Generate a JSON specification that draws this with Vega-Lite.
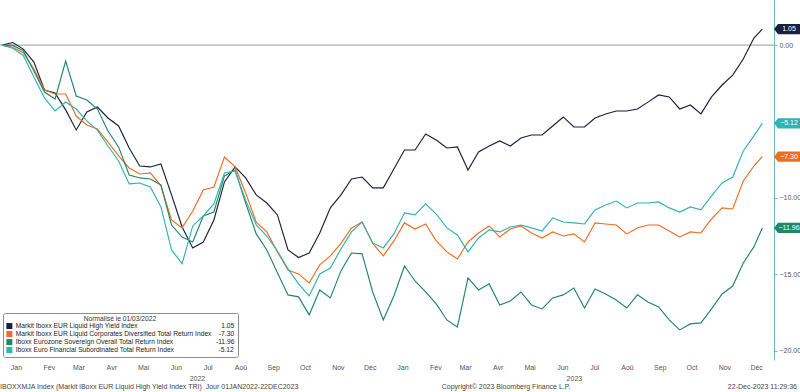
{
"$schema": "https://vega.github.io/schema/vega-lite/v6.json",
"width": 774, "height": 360,
"autosize": {"type": "none"},
"padding": {"left": 0, "top": 0, "right": 26, "bottom": 32},
"background": "white",
"config": {"view": {"stroke": null}, "font": "Liberation Sans",
"axisY": {"orient": "right", "values": [-20, -17.5, -15, -12.5, -10, -7.5, -5, -2.5, 0, 2.5], "labelExpr": "datum.value % 5 == 0 ? format(datum.value, '.2f') : ''", "grid": false, "domainColor": "#6fb8c2", "tickColor": "#6fb8c2", "tickSize": 3, "labelFontSize": 7, "labelColor": "#555555", "labelPadding": 2, "title": null, "labelFlush": false, "labelOverlap": false, "labelBound": false}},
"datasets": {
"names": [
{"s":"HY","n":"Markit Iboxx EUR Liquid High Yield Index"},
{"s":"CO","n":"Markit Iboxx EUR Liquid Corporates Diversified Total Return Index"},
{"s":"SO","n":"Iboxx Eurozone Sovereign Overall Total Return Index"},
{"s":"FI","n":"Iboxx Euro Financial Subordinated Total Return Index"}
],
"series": [
{"s":"HY","t":"2022-01-03","v":0},{"s":"HY","t":"2022-01-13","v":0.17},{"s":"HY","t":"2022-01-23","v":-0.26},{"s":"HY","t":"2022-02-02","v":-1.11},{"s":"HY","t":"2022-02-12","v":-2.94},{"s":"HY","t":"2022-02-22","v":-3.13},{"s":"HY","t":"2022-03-04","v":-4.24},{"s":"HY","t":"2022-03-14","v":-5.55},{"s":"HY","t":"2022-03-24","v":-4.38},{"s":"HY","t":"2022-04-03","v":-4.05},{"s":"HY","t":"2022-04-13","v":-4.77},{"s":"HY","t":"2022-04-23","v":-5.29},{"s":"HY","t":"2022-05-03","v":-6.73},{"s":"HY","t":"2022-05-13","v":-7.91},{"s":"HY","t":"2022-05-23","v":-7.97},{"s":"HY","t":"2022-06-02","v":-7.78},{"s":"HY","t":"2022-06-12","v":-9.80},{"s":"HY","t":"2022-06-22","v":-11.90},{"s":"HY","t":"2022-07-02","v":-13.27},{"s":"HY","t":"2022-07-12","v":-12.88},{"s":"HY","t":"2022-07-22","v":-11.44},{"s":"HY","t":"2022-08-01","v":-8.95},{"s":"HY","t":"2022-08-11","v":-7.97},{"s":"HY","t":"2022-08-21","v":-8.69},{"s":"HY","t":"2022-08-31","v":-9.80},{"s":"HY","t":"2022-09-10","v":-10.33},{"s":"HY","t":"2022-09-20","v":-11.11},{"s":"HY","t":"2022-09-30","v":-13.40},{"s":"HY","t":"2022-10-10","v":-13.90},{"s":"HY","t":"2022-10-20","v":-13.60},{"s":"HY","t":"2022-10-30","v":-12.29},{"s":"HY","t":"2022-11-09","v":-10.65},{"s":"HY","t":"2022-11-19","v":-9.80},{"s":"HY","t":"2022-11-29","v":-8.76},{"s":"HY","t":"2022-12-09","v":-8.63},{"s":"HY","t":"2022-12-19","v":-9.34},{"s":"HY","t":"2022-12-29","v":-9.34},{"s":"HY","t":"2023-01-08","v":-8.10},{"s":"HY","t":"2023-01-18","v":-6.86},{"s":"HY","t":"2023-01-28","v":-6.86},{"s":"HY","t":"2023-02-07","v":-5.81},{"s":"HY","t":"2023-02-17","v":-6.21},{"s":"HY","t":"2023-02-27","v":-6.73},{"s":"HY","t":"2023-03-09","v":-6.66},{"s":"HY","t":"2023-03-19","v":-8.17},{"s":"HY","t":"2023-03-29","v":-6.99},{"s":"HY","t":"2023-04-08","v":-6.60},{"s":"HY","t":"2023-04-18","v":-6.27},{"s":"HY","t":"2023-04-28","v":-6.60},{"s":"HY","t":"2023-05-08","v":-6.08},{"s":"HY","t":"2023-05-18","v":-5.88},{"s":"HY","t":"2023-05-28","v":-5.88},{"s":"HY","t":"2023-06-07","v":-5.29},{"s":"HY","t":"2023-06-17","v":-4.70},{"s":"HY","t":"2023-06-27","v":-5.36},{"s":"HY","t":"2023-07-07","v":-5.36},{"s":"HY","t":"2023-07-17","v":-4.77},{"s":"HY","t":"2023-07-27","v":-4.51},{"s":"HY","t":"2023-08-06","v":-4.31},{"s":"HY","t":"2023-08-16","v":-4.31},{"s":"HY","t":"2023-08-26","v":-4.18},{"s":"HY","t":"2023-09-05","v":-3.73},{"s":"HY","t":"2023-09-15","v":-3.26},{"s":"HY","t":"2023-09-25","v":-3.39},{"s":"HY","t":"2023-10-05","v":-4.18},{"s":"HY","t":"2023-10-15","v":-3.92},{"s":"HY","t":"2023-10-25","v":-4.50},{"s":"HY","t":"2023-11-04","v":-3.39},{"s":"HY","t":"2023-11-14","v":-2.61},{"s":"HY","t":"2023-11-24","v":-1.96},{"s":"HY","t":"2023-12-04","v":-0.91},{"s":"HY","t":"2023-12-14","v":0.46},{"s":"HY","t":"2023-12-22","v":1.05},
{"s":"CO","t":"2022-01-03","v":0},{"s":"CO","t":"2022-01-13","v":-0.14},{"s":"CO","t":"2022-01-23","v":-0.50},{"s":"CO","t":"2022-02-02","v":-1.56},{"s":"CO","t":"2022-02-12","v":-2.94},{"s":"CO","t":"2022-02-22","v":-3.20},{"s":"CO","t":"2022-03-04","v":-3.20},{"s":"CO","t":"2022-03-14","v":-4.64},{"s":"CO","t":"2022-03-24","v":-5.23},{"s":"CO","t":"2022-04-03","v":-5.49},{"s":"CO","t":"2022-04-13","v":-6.34},{"s":"CO","t":"2022-04-23","v":-7.25},{"s":"CO","t":"2022-05-03","v":-8.04},{"s":"CO","t":"2022-05-13","v":-8.43},{"s":"CO","t":"2022-05-23","v":-8.36},{"s":"CO","t":"2022-06-02","v":-9.21},{"s":"CO","t":"2022-06-12","v":-11.44},{"s":"CO","t":"2022-06-22","v":-11.96},{"s":"CO","t":"2022-07-02","v":-10.85},{"s":"CO","t":"2022-07-12","v":-9.48},{"s":"CO","t":"2022-07-22","v":-9.28},{"s":"CO","t":"2022-08-01","v":-7.32},{"s":"CO","t":"2022-08-11","v":-7.97},{"s":"CO","t":"2022-08-21","v":-9.67},{"s":"CO","t":"2022-08-31","v":-11.58},{"s":"CO","t":"2022-09-10","v":-12.22},{"s":"CO","t":"2022-09-20","v":-13.53},{"s":"CO","t":"2022-09-30","v":-14.71},{"s":"CO","t":"2022-10-10","v":-14.97},{"s":"CO","t":"2022-10-20","v":-15.56},{"s":"CO","t":"2022-10-30","v":-14.38},{"s":"CO","t":"2022-11-09","v":-13.79},{"s":"CO","t":"2022-11-19","v":-12.97},{"s":"CO","t":"2022-11-29","v":-11.96},{"s":"CO","t":"2022-12-09","v":-11.58},{"s":"CO","t":"2022-12-19","v":-12.97},{"s":"CO","t":"2022-12-29","v":-13.79},{"s":"CO","t":"2023-01-08","v":-12.81},{"s":"CO","t":"2023-01-18","v":-11.63},{"s":"CO","t":"2023-01-28","v":-12.03},{"s":"CO","t":"2023-02-07","v":-11.70},{"s":"CO","t":"2023-02-17","v":-12.81},{"s":"CO","t":"2023-02-27","v":-13.53},{"s":"CO","t":"2023-03-09","v":-13.99},{"s":"CO","t":"2023-03-19","v":-12.88},{"s":"CO","t":"2023-03-29","v":-12.29},{"s":"CO","t":"2023-04-08","v":-11.83},{"s":"CO","t":"2023-04-18","v":-12.55},{"s":"CO","t":"2023-04-28","v":-12.03},{"s":"CO","t":"2023-05-08","v":-11.83},{"s":"CO","t":"2023-05-18","v":-12.29},{"s":"CO","t":"2023-05-28","v":-12.62},{"s":"CO","t":"2023-06-07","v":-12.22},{"s":"CO","t":"2023-06-17","v":-12.49},{"s":"CO","t":"2023-06-27","v":-12.35},{"s":"CO","t":"2023-07-07","v":-12.88},{"s":"CO","t":"2023-07-17","v":-11.63},{"s":"CO","t":"2023-07-27","v":-11.70},{"s":"CO","t":"2023-08-06","v":-11.77},{"s":"CO","t":"2023-08-16","v":-12.35},{"s":"CO","t":"2023-08-26","v":-11.96},{"s":"CO","t":"2023-09-05","v":-11.77},{"s":"CO","t":"2023-09-15","v":-11.77},{"s":"CO","t":"2023-09-25","v":-12.16},{"s":"CO","t":"2023-10-05","v":-12.55},{"s":"CO","t":"2023-10-15","v":-12.22},{"s":"CO","t":"2023-10-25","v":-12.29},{"s":"CO","t":"2023-11-04","v":-11.37},{"s":"CO","t":"2023-11-14","v":-10.65},{"s":"CO","t":"2023-11-24","v":-10.72},{"s":"CO","t":"2023-12-04","v":-8.89},{"s":"CO","t":"2023-12-14","v":-7.91},{"s":"CO","t":"2023-12-22","v":-7.30},
{"s":"SO","t":"2022-01-03","v":0},{"s":"SO","t":"2022-01-13","v":-0.02},{"s":"SO","t":"2022-01-23","v":-0.37},{"s":"SO","t":"2022-02-02","v":-1.69},{"s":"SO","t":"2022-02-12","v":-3.07},{"s":"SO","t":"2022-02-22","v":-3.53},{"s":"SO","t":"2022-03-04","v":-1.04},{"s":"SO","t":"2022-03-14","v":-3.33},{"s":"SO","t":"2022-03-24","v":-3.59},{"s":"SO","t":"2022-04-03","v":-4.18},{"s":"SO","t":"2022-04-13","v":-5.62},{"s":"SO","t":"2022-04-23","v":-6.66},{"s":"SO","t":"2022-05-03","v":-8.50},{"s":"SO","t":"2022-05-13","v":-8.69},{"s":"SO","t":"2022-05-23","v":-8.76},{"s":"SO","t":"2022-06-02","v":-9.15},{"s":"SO","t":"2022-06-12","v":-11.77},{"s":"SO","t":"2022-06-22","v":-12.56},{"s":"SO","t":"2022-07-02","v":-12.88},{"s":"SO","t":"2022-07-12","v":-11.18},{"s":"SO","t":"2022-07-22","v":-10.92},{"s":"SO","t":"2022-08-01","v":-8.56},{"s":"SO","t":"2022-08-11","v":-8.17},{"s":"SO","t":"2022-08-21","v":-10.33},{"s":"SO","t":"2022-08-31","v":-12.35},{"s":"SO","t":"2022-09-10","v":-13.40},{"s":"SO","t":"2022-09-20","v":-14.90},{"s":"SO","t":"2022-09-30","v":-16.34},{"s":"SO","t":"2022-10-10","v":-16.47},{"s":"SO","t":"2022-10-20","v":-17.65},{"s":"SO","t":"2022-10-30","v":-16.02},{"s":"SO","t":"2022-11-09","v":-16.54},{"s":"SO","t":"2022-11-19","v":-14.77},{"s":"SO","t":"2022-11-29","v":-13.60},{"s":"SO","t":"2022-12-09","v":-13.66},{"s":"SO","t":"2022-12-19","v":-16.15},{"s":"SO","t":"2022-12-29","v":-17.98},{"s":"SO","t":"2023-01-08","v":-16.41},{"s":"SO","t":"2023-01-18","v":-14.45},{"s":"SO","t":"2023-01-28","v":-15.43},{"s":"SO","t":"2023-02-07","v":-16.15},{"s":"SO","t":"2023-02-17","v":-16.93},{"s":"SO","t":"2023-02-27","v":-17.98},{"s":"SO","t":"2023-03-09","v":-18.44},{"s":"SO","t":"2023-03-19","v":-15.23},{"s":"SO","t":"2023-03-29","v":-16.02},{"s":"SO","t":"2023-04-08","v":-15.62},{"s":"SO","t":"2023-04-18","v":-17.00},{"s":"SO","t":"2023-04-28","v":-16.74},{"s":"SO","t":"2023-05-08","v":-16.15},{"s":"SO","t":"2023-05-18","v":-17.00},{"s":"SO","t":"2023-05-28","v":-17.26},{"s":"SO","t":"2023-06-07","v":-16.54},{"s":"SO","t":"2023-06-17","v":-16.34},{"s":"SO","t":"2023-06-27","v":-15.89},{"s":"SO","t":"2023-07-07","v":-17.20},{"s":"SO","t":"2023-07-17","v":-15.95},{"s":"SO","t":"2023-07-27","v":-16.28},{"s":"SO","t":"2023-08-06","v":-16.67},{"s":"SO","t":"2023-08-16","v":-17.20},{"s":"SO","t":"2023-08-26","v":-16.34},{"s":"SO","t":"2023-09-05","v":-16.80},{"s":"SO","t":"2023-09-15","v":-17.13},{"s":"SO","t":"2023-09-25","v":-17.98},{"s":"SO","t":"2023-10-05","v":-18.63},{"s":"SO","t":"2023-10-15","v":-18.24},{"s":"SO","t":"2023-10-25","v":-18.17},{"s":"SO","t":"2023-11-04","v":-17.26},{"s":"SO","t":"2023-11-14","v":-16.28},{"s":"SO","t":"2023-11-24","v":-15.76},{"s":"SO","t":"2023-12-04","v":-14.25},{"s":"SO","t":"2023-12-14","v":-13.20},{"s":"SO","t":"2023-12-22","v":-11.96},
{"s":"FI","t":"2022-01-03","v":0},{"s":"FI","t":"2022-01-13","v":-0.20},{"s":"FI","t":"2022-01-23","v":-0.68},{"s":"FI","t":"2022-02-02","v":-2.09},{"s":"FI","t":"2022-02-12","v":-3.46},{"s":"FI","t":"2022-02-22","v":-4.31},{"s":"FI","t":"2022-03-04","v":-3.72},{"s":"FI","t":"2022-03-14","v":-4.18},{"s":"FI","t":"2022-03-24","v":-4.96},{"s":"FI","t":"2022-04-03","v":-5.56},{"s":"FI","t":"2022-04-13","v":-6.60},{"s":"FI","t":"2022-04-23","v":-7.58},{"s":"FI","t":"2022-05-03","v":-9.08},{"s":"FI","t":"2022-05-13","v":-9.02},{"s":"FI","t":"2022-05-23","v":-9.28},{"s":"FI","t":"2022-06-02","v":-10.59},{"s":"FI","t":"2022-06-12","v":-13.40},{"s":"FI","t":"2022-06-22","v":-14.30},{"s":"FI","t":"2022-07-02","v":-11.83},{"s":"FI","t":"2022-07-12","v":-11.18},{"s":"FI","t":"2022-07-22","v":-10.39},{"s":"FI","t":"2022-08-01","v":-8.36},{"s":"FI","t":"2022-08-11","v":-8.23},{"s":"FI","t":"2022-08-21","v":-10.14},{"s":"FI","t":"2022-08-31","v":-11.77},{"s":"FI","t":"2022-09-10","v":-12.49},{"s":"FI","t":"2022-09-20","v":-13.47},{"s":"FI","t":"2022-09-30","v":-14.64},{"s":"FI","t":"2022-10-10","v":-15.62},{"s":"FI","t":"2022-10-20","v":-16.41},{"s":"FI","t":"2022-10-30","v":-14.97},{"s":"FI","t":"2022-11-09","v":-14.58},{"s":"FI","t":"2022-11-19","v":-13.34},{"s":"FI","t":"2022-11-29","v":-12.22},{"s":"FI","t":"2022-12-09","v":-11.57},{"s":"FI","t":"2022-12-19","v":-12.94},{"s":"FI","t":"2022-12-29","v":-13.27},{"s":"FI","t":"2023-01-08","v":-12.35},{"s":"FI","t":"2023-01-18","v":-10.98},{"s":"FI","t":"2023-01-28","v":-11.11},{"s":"FI","t":"2023-02-07","v":-10.39},{"s":"FI","t":"2023-02-17","v":-11.05},{"s":"FI","t":"2023-02-27","v":-11.96},{"s":"FI","t":"2023-03-09","v":-12.42},{"s":"FI","t":"2023-03-19","v":-13.53},{"s":"FI","t":"2023-03-29","v":-12.62},{"s":"FI","t":"2023-04-08","v":-12.09},{"s":"FI","t":"2023-04-18","v":-12.22},{"s":"FI","t":"2023-04-28","v":-11.90},{"s":"FI","t":"2023-05-08","v":-11.77},{"s":"FI","t":"2023-05-18","v":-11.96},{"s":"FI","t":"2023-05-28","v":-12.16},{"s":"FI","t":"2023-06-07","v":-11.31},{"s":"FI","t":"2023-06-17","v":-11.57},{"s":"FI","t":"2023-06-27","v":-11.63},{"s":"FI","t":"2023-07-07","v":-11.70},{"s":"FI","t":"2023-07-17","v":-10.78},{"s":"FI","t":"2023-07-27","v":-10.46},{"s":"FI","t":"2023-08-06","v":-10.20},{"s":"FI","t":"2023-08-16","v":-10.65},{"s":"FI","t":"2023-08-26","v":-10.33},{"s":"FI","t":"2023-09-05","v":-10.33},{"s":"FI","t":"2023-09-15","v":-10.26},{"s":"FI","t":"2023-09-25","v":-10.65},{"s":"FI","t":"2023-10-05","v":-10.92},{"s":"FI","t":"2023-10-15","v":-10.59},{"s":"FI","t":"2023-10-25","v":-10.78},{"s":"FI","t":"2023-11-04","v":-9.87},{"s":"FI","t":"2023-11-14","v":-9.02},{"s":"FI","t":"2023-11-24","v":-8.63},{"s":"FI","t":"2023-12-04","v":-6.93},{"s":"FI","t":"2023-12-14","v":-5.94},{"s":"FI","t":"2023-12-22","v":-5.12}
]
},
"resolve": {"axis": {"x": "independent"}},
"layer": [
{
"data": {"values": [{"z": 0}]},
"mark": {"type": "rule", "color": "#9a9a9a", "strokeWidth": 1},
"encoding": {"y": {"field": "z", "type": "quantitative", "scale": {"domain": [-20.6, 2.95], "nice": false, "zero": false}, "axis": {"orient": "right", "labelOverlap": false, "labelFlush": false, "labelBound": false}}}
},
{
"data": {"name": "series"},
"transform": [{"lookup": "s", "from": {"data": {"name": "names"}, "key": "s", "fields": ["n"]}}],
"mark": {"type": "line", "strokeWidth": 1.15},
"encoding": {
"x": {"field": "t", "type": "temporal",
"scale": {"type": "utc", "domain": [{"year": 2022, "month": 1, "date": 1, "utc": true}, {"year": 2024, "month": 1, "date": 2, "utc": true}]},
"axis": {"orient": "bottom", "tickCount": {"interval": "month", "step": 1}, "labelExpr": "utcyear(datum.value) > 2023 ? '' : ['Jan','Fév','Mar','Avr','Mai','Jun','Jul','Aoû','Sep','Oct','Nov','Déc'][utcmonth(datum.value)]", "labelOffset": 16, "labelAlign": "center", "ticks": false, "domain": false, "grid": false, "labelPadding": 3, "labelFontSize": 7, "labelColor": "#555555", "title": null, "labelOverlap": false, "labelFlush": false, "labelBound": false}},
"y": {"field": "v", "type": "quantitative", "scale": {"domain": [-20.6, 2.95], "nice": false, "zero": false},
"axis": {"orient": "right", "values": [-20, -17.5, -15, -12.5, -10, -7.5, -5, -2.5, 0, 2.5], "labelExpr": "datum.value % 5 == 0 ? format(datum.value, '.2f') : ''", "grid": false, "domainColor": "#6fb8c2", "tickColor": "#6fb8c2", "tickSize": 3, "labelFontSize": 7, "labelColor": "#555555", "labelPadding": 2, "title": null, "labelFlush": false, "labelOverlap": false, "labelBound": false}},
"color": {"field": "n", "type": "nominal",
"scale": {"domain": ["Markit Iboxx EUR Liquid High Yield Index", "Markit Iboxx EUR Liquid Corporates Diversified Total Return Index", "Iboxx Eurozone Sovereign Overall Total Return Index", "Iboxx Euro Financial Subordinated Total Return Index"], "range": ["#1b1e3c", "#f26b21", "#20866a", "#2fb3b3"]},
"legend": {"title": "Normalisé le 01/03/2022", "orient": "bottom-left", "offset": 3, "fillColor": "#ffffff", "strokeColor": "#8c8c8c", "padding": 3, "cornerRadius": 2, "titleAnchor": "middle", "titleFontSize": 6.7, "titleFontWeight": "normal", "titleColor": "#333333", "titlePadding": 0, "labelFontSize": 6.7, "labelColor": "#222222", "labelLimit": 400, "symbolType": "square", "symbolSize": 36, "rowPadding": 0, "labelOffset": 3,
"labelExpr": "datum.label + pad('', indexof(datum.label, 'High') >= 0 ? 45 : indexof(datum.label, 'Corporates') >= 0 ? 4 : indexof(datum.label, 'Sovereign') >= 0 ? 23 : 24, '\u00a0') + (indexof(datum.label, 'High') >= 0 ? '1.05' : indexof(datum.label, 'Corporates') >= 0 ? '-7.30' : indexof(datum.label, 'Sovereign') >= 0 ? '-11.96' : '-5.12')",
"encode": {"symbols": {"update": {"fill": {"scale": "color", "field": "value"}, "strokeWidth": {"value": 0}, "opacity": {"value": 1}}}}}}
}
},
{
"data": {"name": "series"},
"transform": [{"lookup": "s", "from": {"data": {"name": "names"}, "key": "s", "fields": ["n"]}}, {"filter": "+toDate(datum.t) >= +utc(2023, 11, 21)"}],
"mark": {"type": "point", "filled": true, "opacity": 1, "strokeWidth": 0, "shape": "M0,0L0.3,-0.38L1.95,-0.38L1.95,0.38L0.3,0.38Z", "size": 729},
"encoding": {
"x": {"datum": {"year": 2024, "month": 1, "date": 2, "utc": true}, "type": "temporal", "axis": null},
"y": {"field": "v", "type": "quantitative", "axis": {"orient": "right", "labelOverlap": false, "labelFlush": false, "labelBound": false}},
"color": {"field": "n", "type": "nominal", "legend": null}
}
},
{
"data": {"name": "series"},
"transform": [{"filter": "+toDate(datum.t) >= +utc(2023, 11, 21)"}],
"mark": {"type": "text", "align": "center", "baseline": "middle", "dx": 15, "fontSize": 7, "fill": "#ffffff"},
"encoding": {
"x": {"datum": {"year": 2024, "month": 1, "date": 2, "utc": true}, "type": "temporal", "axis": null},
"y": {"field": "v", "type": "quantitative", "axis": {"orient": "right", "labelOverlap": false, "labelFlush": false, "labelBound": false}},
"text": {"field": "v", "type": "quantitative", "format": ".2f"}
}
},
{
"data": {"values": [{"txt": "IBOXXMJA Index (Markit iBoxx EUR Liquid High Yield Index TRI)\u00a0 Jour 01JAN2022-22DEC2023"}]},
"mark": {"type": "text", "align": "left", "baseline": "middle", "fontSize": 7, "fill": "#444444"},
"encoding": {
"x": {"datum": {"year": 2022, "month": 1, "date": 1, "utc": true}, "type": "temporal",
"axis": {"orient": "bottom", "values": [{"year": 2022, "month": 7, "date": 6, "utc": true}, {"year": 2023, "month": 6, "date": 27, "utc": true}], "labelExpr": "utcFormat(datum.value, '%Y')", "ticks": false, "domain": false, "grid": false, "labelPadding": 14, "labelFontSize": 7, "labelColor": "#555555", "title": null, "labelOverlap": false, "labelFlush": false, "labelBound": false}},
"y": {"datum": -22.35, "type": "quantitative", "axis": {"orient": "right", "labelOverlap": false, "labelFlush": false, "labelBound": false}},
"text": {"field": "txt", "type": "nominal"}
}
},
{
"data": {"values": [{"txt": "Copyright© 2023 Bloomberg Finance L.P."}]},
"mark": {"type": "text", "align": "center", "baseline": "middle", "fontSize": 7, "fill": "#444444"},
"encoding": {
"x": {"datum": {"year": 2023, "month": 4, "date": 24, "utc": true}, "type": "temporal", "axis": null},
"y": {"datum": -22.35, "type": "quantitative", "axis": {"orient": "right", "labelOverlap": false, "labelFlush": false, "labelBound": false}},
"text": {"field": "txt", "type": "nominal"}
}
},
{
"data": {"values": [{"txt": "22-Dec-2023 11:29:36"}]},
"mark": {"type": "text", "align": "right", "baseline": "middle", "dx": 23, "fontSize": 7, "fill": "#444444"},
"encoding": {
"x": {"datum": {"year": 2024, "month": 1, "date": 2, "utc": true}, "type": "temporal", "axis": null},
"y": {"datum": -22.35, "type": "quantitative", "axis": {"orient": "right", "labelOverlap": false, "labelFlush": false, "labelBound": false}},
"text": {"field": "txt", "type": "nominal"}
}
}
]
}
